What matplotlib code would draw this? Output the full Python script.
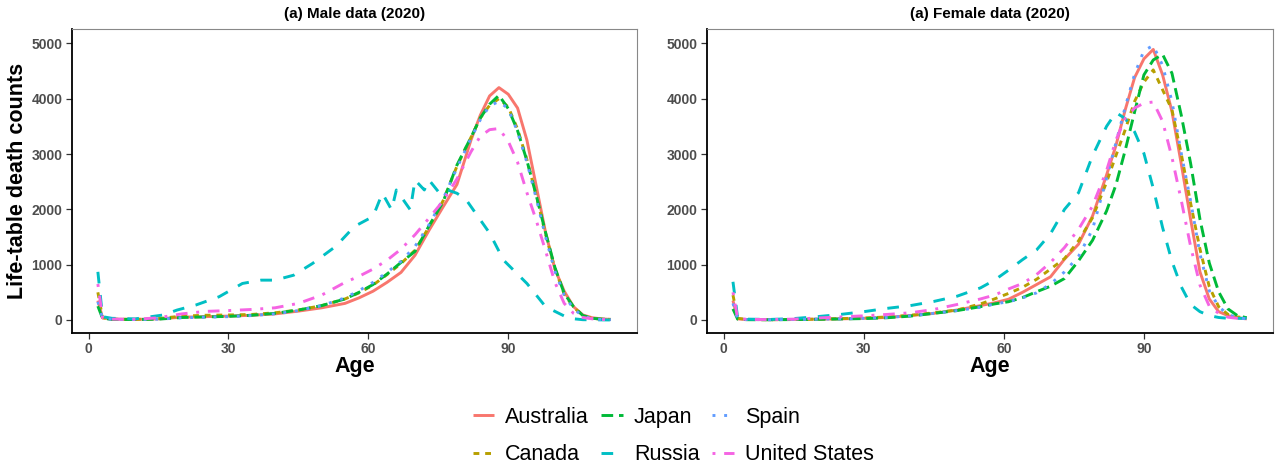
import matplotlib
matplotlib.use('Agg')
import matplotlib.pyplot as plt

plt.rcParams['font.family'] = ['Liberation Sans', 'DejaVu Sans']

countries = ['Australia', 'Canada', 'Japan', 'Russia', 'Spain', 'United States']

# common age grid
ages = [2, 3, 5, 10, 15, 20, 25, 30, 35, 40, 45, 50, 55, 58, 61, 64, 67, 70, 73,
        76, 79, 82, 84, 86, 88, 90, 92, 94, 96, 98, 100, 102, 104, 106, 108, 110, 112]

# male (2020) life-table death counts
male_australia = [350, 40, 15, 10, 20, 50, 60, 70, 85, 110, 160, 220, 300, 400, 520, 680, 860, 1170, 1620,
                  2040, 2450, 3250, 3700, 4050, 4200, 4080, 3830, 3250, 2420, 1580, 920, 520, 240, 90, 40, 20, 10]
male_canada = [500, 40, 15, 10, 25, 70, 85, 90, 100, 130, 180, 260, 380, 490, 630, 820, 1020, 1260, 1680,
               2150, 2780, 3300, 3650, 3880, 4000, 3850, 3450, 2900, 2250, 1550, 930, 470, 230, 80, 30, 15, 10]
male_japan = [250, 30, 12, 8, 15, 45, 55, 65, 85, 120, 180, 260, 380, 500, 640, 830, 1040, 1240, 1700,
              2130, 2800, 3300, 3650, 3900, 4060, 3820, 3420, 2880, 2250, 1580, 950, 480, 240, 80, 30, 15, 10]
male_spain = [330, 30, 12, 8, 15, 40, 50, 60, 80, 110, 170, 260, 400, 530, 680, 860, 1060, 1330, 1720,
              2180, 2750, 3280, 3620, 3870, 3950, 3820, 3400, 2850, 2200, 1500, 880, 450, 200, 70, 25, 10, 5]
male_usa = [650, 40, 15, 12, 40, 110, 155, 170, 190, 220, 300, 450, 680, 790, 920, 1080, 1280, 1540, 1840,
            2150, 2550, 3040, 3320, 3440, 3460, 3230, 2850, 2300, 1800, 1250, 680, 300, 120, 45, 20, 10, 5]
# Russia male is jagged, own age points
ages_rus_m = [2, 3, 5, 10, 16, 19, 23, 28, 33, 37, 40, 44, 48, 53, 57, 61, 63, 65, 66, 69, 70, 72, 73,
              75, 76, 79, 81, 84, 86, 89, 94, 98, 103, 106, 112]
male_russia = [870, 60, 30, 20, 90, 180, 270, 420, 660, 720, 720, 810, 1020, 1330, 1690, 1870, 2290, 1990,
               2350, 1990, 2530, 2350, 2530, 2320, 2380, 2290, 2170, 1810, 1570, 1080, 660, 240, 30, 5, 0]

# female (2020) life-table death counts
female_australia = [350, 20, 8, 5, 10, 15, 20, 30, 45, 80, 120, 180, 260, 310, 375, 500, 640, 780, 1100,
                    1370, 1880, 2620, 3150, 3800, 4380, 4720, 4890, 4430, 3770, 2820, 1820, 870, 380, 150, 80, 40, 20]
female_canada = [450, 30, 10, 5, 8, 15, 25, 35, 55, 85, 130, 180, 290, 380, 480, 590, 735, 920, 1110,
                 1430, 1850, 2490, 2970, 3440, 3950, 4300, 4520, 4160, 3800, 3000, 2110, 1280, 600, 240, 100, 55, 40]
female_japan = [200, 15, 5, 4, 8, 12, 18, 25, 40, 70, 120, 170, 240, 290, 330, 405, 510, 610, 750,
                1070, 1440, 1970, 2440, 3070, 3760, 4430, 4700, 4800, 4460, 3700, 2830, 1820, 1030, 510, 200, 80, 40]
female_russia = [690, 40, 15, 10, 25, 60, 100, 150, 210, 260, 335, 430, 580, 720, 900, 1090, 1265, 1560, 2000,
                 2300, 2970, 3500, 3750, 3640, 3400, 3010, 2380, 1670, 1060, 600, 280, 150, 80, 45, 30, 30, 30]
female_spain = [300, 20, 8, 5, 8, 15, 20, 30, 45, 75, 120, 170, 230, 290, 330, 400, 490, 650, 870,
                1150, 1640, 2560, 3200, 3850, 4440, 4870, 4960, 4600, 3950, 3010, 2150, 1190, 530, 240, 100, 40, 20]
female_usa = [500, 30, 10, 8, 15, 35, 55, 75, 100, 130, 190, 280, 380, 450, 560, 660, 820, 1040, 1310,
              1640, 2060, 2700, 3250, 3650, 3830, 3920, 3940, 3590, 2940, 2160, 1330, 630, 250, 120, 50, 30, 20]

colors = ['#F8766D', '#B79F00', '#00BA38', '#00BFC4', '#619CFF', '#F564E3']
# ggplot-like linetypes: solid, 22, 42, 44, 13, 1343
styles = ['-', (0, (2, 2)), (0, (4, 2)), (0, (4, 4)), (0, (1, 3)), (0, (1, 3, 4, 3))]

male = [(ages, male_australia), (ages, male_canada), (ages, male_japan),
        (ages_rus_m, male_russia), (ages, male_spain), (ages, male_usa)]
female = [(ages, female_australia), (ages, female_canada), (ages, female_japan),
          (ages, female_russia), (ages, female_spain), (ages, female_usa)]

fig = plt.figure(figsize=(12.76, 4.68), dpi=100)
ax1 = fig.add_axes([0.0566, 0.2891, 0.4426, 0.6483])
ax2 = fig.add_axes([0.5543, 0.2891, 0.4432, 0.6483])

tick_col = '#4D4D4D'
for ax, data, title in [(ax1, male, '(a) Male data (2020)'), (ax2, female, '(a) Female data (2020)')]:
    lines = []
    for (x, y), c, ls, name in zip(data, colors, styles, countries):
        ln, = ax.plot(x, y, color=c, linestyle=ls, lw=2.1, label=name,
                      solid_capstyle='butt', dash_capstyle='butt')
        lines.append(ln)
    ax.set_xlim(-3.5, 117.6)
    ax.set_ylim(-230, 5254)
    ax.set_xticks([0, 30, 60, 90])
    ax.set_yticks([0, 1000, 2000, 3000, 4000, 5000])
    ax.tick_params(length=4, width=0.9, color='#333333', labelcolor=tick_col, labelsize=10, pad=3)
    for lab in ax.get_xticklabels() + ax.get_yticklabels():
        lab.set_fontweight('bold')
    for s in ['top', 'right']:
        ax.spines[s].set_color('#888888')
        ax.spines[s].set_linewidth(0.8)
    for s in ['left', 'bottom']:
        ax.spines[s].set_color('black')
        ax.spines[s].set_linewidth(1.3)
    ax.text(0.5, 1.05, title, transform=ax.transAxes, ha='center', va='center',
            fontsize=11, fontweight='bold')
    ax.set_xlabel('Age', fontsize=15.5, fontweight='bold')
    ax.xaxis.set_label_coords(0.5, -0.113)
    ax.xaxis.label.set_va('center')

ax1.set_ylabel('Life-table death counts', fontsize=15.5, fontweight='bold', va='center')
ax1.yaxis.set_label_coords(-0.0977, 0.5)

fig.legend(handles=lines, labels=countries, loc='center', bbox_to_anchor=(673 / 1276, 1 - 436 / 468),
           ncol=3, frameon=False, fontsize=15.5, handlelength=1.0, handletextpad=0.5,
           columnspacing=0.6, labelspacing=0.75)

fig.savefig('out.png', dpi=100)
